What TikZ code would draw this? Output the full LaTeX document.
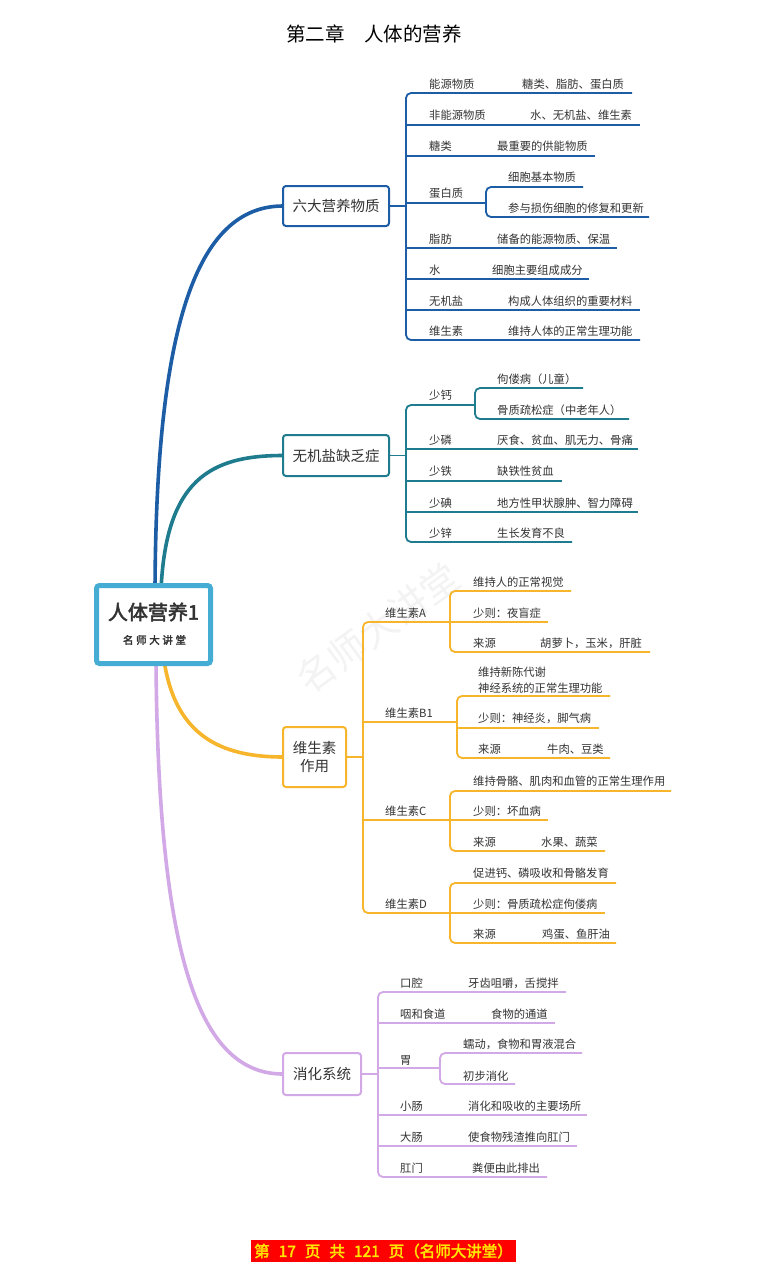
\documentclass[tikz,border=0pt]{standalone}
\usepackage{fontspec}
\setmainfont{Noto Sans CJK SC}[AutoFakeBold=2.5]
\definecolor{cA}{HTML}{1C5DA6}
\definecolor{cB}{HTML}{1E7C8E}
\definecolor{cC}{HTML}{F6B52B}
\definecolor{cD}{HTML}{D2A8E6}
\definecolor{cR}{HTML}{45ADD3}
\definecolor{txt}{HTML}{333333}
\definecolor{wm}{HTML}{F3F3F3}
\definecolor{footy}{HTML}{FFE600}
\tikzset{
  t/.style={anchor=west, inner sep=0, text=txt, font=\fontsize{11.3}{14}\selectfont},
  topbox/.style={draw, line width=2, rounded corners=3, fill=white, text=txt, inner sep=0, align=center, font=\fontsize{14.5}{18}\selectfont},
  ulin/.style={line width=1.8},
  curve/.style={line width=3.6, line cap=round}
}
\begin{document}
\begin{tikzpicture}[x=1pt,y=-1pt]
\useasboundingbox[fill=white] (0,0) rectangle (766,1280);

% title
\node[inner sep=0, text=black, font=\fontsize{19.5}{22}\selectfont] (title) at (374,34) {第二章\quad 人体的营养};

% watermark
\node[inner sep=0, text=wm, rotate=36, font=\fontsize{38}{40}\selectfont] (wmk) at (378,628) {名师大讲堂};

% coordinates on root
\coordinate (rA) at (155,590);
\coordinate (rB) at (161,590);
\coordinate (rC) at (164,660);
\coordinate (rD) at (156,660);

% level-1 box anchors
\coordinate (pA) at (283,206);
\coordinate (pB) at (283,455.5);
\coordinate (pC) at (283,757);
\coordinate (pD) at (283,1074);

% curves
\draw[curve, cA] (rA) .. controls (156,330) and (195,206) .. (pA);
\draw[curve, cB] (rB) .. controls (166,480) and (210,455.5) .. (pB);
\draw[curve, cC] (rC) .. controls (175,735) and (220,757) .. (pC);
\draw[curve, cD] (rD) .. controls (158,960) and (200,1074) .. (pD);

% root
\node[draw=cR, line width=5, rounded corners=3, fill=white, minimum width=114, minimum height=78, inner sep=0] (root) at (153.5,624.5) {};
\node[inner sep=0, text=txt, font=\fontsize{20}{22}\selectfont\bfseries] (rt1) at (153.5,612) {人体营养1};
\node[inner sep=0, text=txt, font=\fontsize{10.5}{12}\selectfont\bfseries\addfontfeature{LetterSpace=25}] (rt2) at (154.5,640) {名师大讲堂};

% ---------- Branch A ----------
\node[topbox, draw=cA, minimum width=106, minimum height=40] (bA) at (336,206) {六大营养物质};
\begin{scope}[cA, ulin]
\draw[rounded corners=5] (632,93) -- (406,93) -- (406,340) -- (640,340);
\foreach \y/\e in {125/640,156/595,203/486,248/617,279/589,310/640} \draw (406,\y) -- (\e,\y);
\draw (bA.east) -- (406,206);
\draw[rounded corners=5] (583,187) -- (486,187) -- (486,217) -- (649,217);
\end{scope}
\node[t] (a1) at (429,84) {能源物质};      \node[t] (a1v) at (522,84) {糖类、脂肪、蛋白质};
\node[t] (a2) at (429,115) {非能源物质};    \node[t] (a2v) at (530,115) {水、无机盐、维生素};
\node[t] (a3) at (429,146) {糖类};          \node[t] (a3v) at (497,146) {最重要的供能物质};
\node[t] (a4) at (429,193) {蛋白质};
\node[t] (a4a) at (508,177) {细胞基本物质};
\node[t] (a4b) at (508,208) {参与损伤细胞的修复和更新};
\node[t] (a5) at (429,239) {脂肪};          \node[t] (a5v) at (497,239) {储备的能源物质、保温};
\node[t] (a6) at (429,270) {水};            \node[t] (a6v) at (492,270) {细胞主要组成成分};
\node[t] (a7) at (429,301) {无机盐};        \node[t] (a7v) at (508,301) {构成人体组织的重要材料};
\node[t] (a8) at (429,331) {维生素};        \node[t] (a8v) at (508,331) {维持人体的正常生理功能};

% ---------- Branch B ----------
\node[topbox, draw=cB, minimum width=106, minimum height=41] (bB) at (336,455.5) {无机盐缺乏症};
\begin{scope}[cB, ulin]
\draw[rounded corners=5] (475,405) -- (406,405) -- (406,542) -- (572,542);
\foreach \y/\e in {449/638,481/562,512/638} \draw (406,\y) -- (\e,\y);
\draw (bB.east) -- (406,455.5);
\draw[rounded corners=5] (583,388) -- (475,388) -- (475,419) -- (629,419);
\end{scope}
\node[t] (b1) at (429,395) {少钙};
\node[t] (b1a) at (497,379) {佝偻病（儿童）};
\node[t] (b1b) at (497,410) {骨质疏松症（中老年人）};
\node[t] (b2) at (429,440) {少磷};  \node[t] (b2v) at (497,440) {厌食、贫血、肌无力、骨痛};
\node[t] (b3) at (429,471) {少铁};  \node[t] (b3v) at (497,471) {缺铁性贫血};
\node[t] (b4) at (429,503) {少碘};  \node[t] (b4v) at (497,503) {地方性甲状腺肿、智力障碍};
\node[t] (b5) at (429,533) {少锌};  \node[t] (b5v) at (497,533) {生长发育不良};

% ---------- Branch C ----------
\node[topbox, draw=cC, minimum width=63, minimum height=60] (bC) at (314.5,757) {维生素\\作用};
\begin{scope}[cC, ulin]
\draw[rounded corners=5] (450,622) -- (363,622) -- (363,913) -- (450,913);
\draw (363,722) -- (457,722);
\draw (363,820) -- (450,820);
\draw (bC.east) -- (363,757);
% A
\draw[rounded corners=5] (571,591) -- (450,591) -- (450,652) -- (650,652);
\draw (450,622) -- (548,622);
% B1
\draw[rounded corners=5] (610,696) -- (457,696) -- (457,758) -- (610,758);
\draw (457,728) -- (599,728);
% C
\draw[rounded corners=5] (671,791) -- (450,791) -- (450,851) -- (605,851);
\draw (450,820) -- (548,820);
% D
\draw[rounded corners=5] (616,883) -- (450,883) -- (450,943) -- (616,943);
\draw (450,913) -- (605,913);
\end{scope}
\node[t] (c1) at (385,613) {维生素A};
\node[t] (c1a) at (473,582) {维持人的正常视觉};
\node[t] (c1b) at (473,613) {少则：夜盲症};
\node[t] (c1c) at (473,643) {来源};  \node[t] (c1cv) at (540,643) {胡萝卜，玉米，肝脏};
\node[t] (c2) at (385,713) {维生素B1};
\node[t] (c2a1) at (478,672) {维持新陈代谢};
\node[t] (c2a2) at (478,688) {神经系统的正常生理功能};
\node[t] (c2b) at (478,718) {少则：神经炎，脚气病};
\node[t] (c2c) at (478,749) {来源};  \node[t] (c2cv) at (547,749) {牛肉、豆类};
\node[t] (c3) at (385,811) {维生素C};
\node[t] (c3a) at (473,781) {维持骨骼、肌肉和血管的正常生理作用};
\node[t] (c3b) at (473,811) {少则：坏血病};
\node[t] (c3c) at (473,842) {来源};  \node[t] (c3cv) at (541,842) {水果、蔬菜};
\node[t] (c4) at (385,904) {维生素D};
\node[t] (c4a) at (473,873) {促进钙、磷吸收和骨骼发育};
\node[t] (c4b) at (473,904) {少则：骨质疏松症佝偻病};
\node[t] (c4c) at (473,934) {来源};  \node[t] (c4cv) at (542,934) {鸡蛋、鱼肝油};

% ---------- Branch D ----------
\node[topbox, draw=cD, minimum width=78, minimum height=42] (bD) at (322,1074) {消化系统};
\begin{scope}[cD, ulin]
\draw[rounded corners=5] (566,992) -- (378,992) -- (378,1177) -- (547,1177);
\foreach \y/\e in {1023/555,1068/440,1115/587,1146/577} \draw (378,\y) -- (\e,\y);
\draw (bD.east) -- (378,1074);
\draw[rounded corners=5] (582,1053) -- (440,1053) -- (440,1084) -- (515,1084);
\end{scope}
\node[t] (d1) at (400,983) {口腔};      \node[t] (d1v) at (468,983) {牙齿咀嚼，舌搅拌};
\node[t] (d2) at (400,1014) {咽和食道}; \node[t] (d2v) at (491,1014) {食物的通道};
\node[t] (d3) at (400,1060) {胃};
\node[t] (d3a) at (463,1044) {蠕动，食物和胃液混合};
\node[t] (d3b) at (463,1076) {初步消化};
\node[t] (d4) at (400,1106) {小肠};     \node[t] (d4v) at (468,1106) {消化和吸收的主要场所};
\node[t] (d5) at (400,1137) {大肠};     \node[t] (d5v) at (468,1137) {使食物残渣推向肛门};
\node[t] (d6) at (400,1168) {肛门};     \node[t] (d6v) at (472,1168) {粪便由此排出};

% footer
\node[fill=red, minimum width=265, minimum height=22, inner sep=0] (foot) at (383.5,1251) {};
\node[inner sep=0, text=footy, font=\fontsize{15.5}{17}\selectfont\bfseries] (foott) at (383.5,1251) {第\hspace{9pt}17\hspace{9pt}页\hspace{9pt}共\hspace{9pt}121\hspace{9pt}页（名师大讲堂）};
\end{tikzpicture}
\end{document}
